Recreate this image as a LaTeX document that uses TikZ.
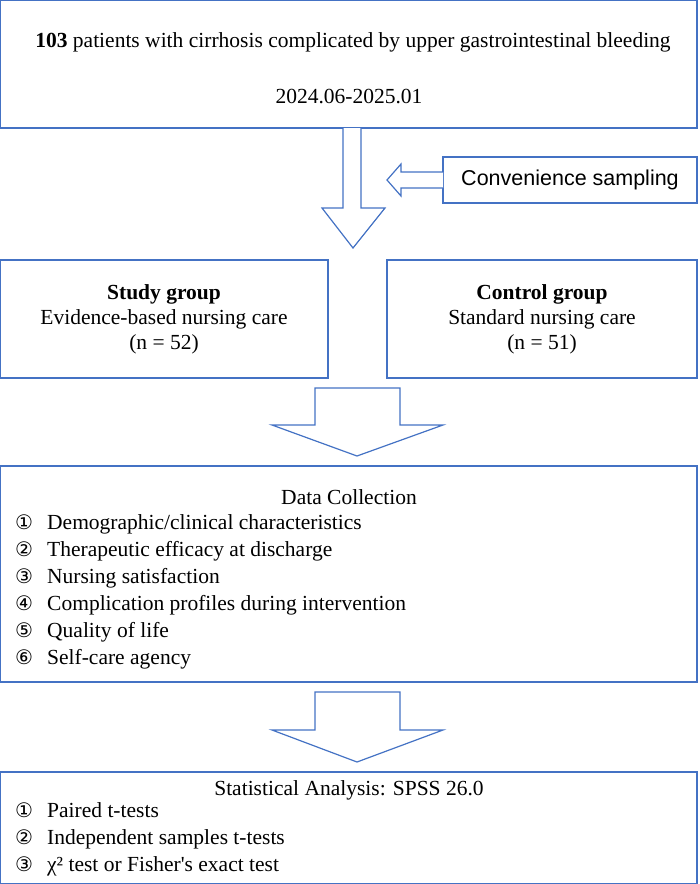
\documentclass[tikz,border=0pt]{standalone}
\usepackage{fontspec}
\setmainfont{Liberation Serif}
\newfontfamily\sansf{Liberation Sans}
\newfontfamily\cnumf{DejaVu Sans}
\definecolor{bl}{HTML}{4472C4}
\newcommand{\cn}[1]{\makebox[32pt][l]{\cnumf\fontsize{20}{20}\selectfont #1}}
\begin{document}
\begin{tikzpicture}[x=1pt,y=-1pt,
 bx/.style={draw=bl,line width=1.2pt},
 ar/.style={draw=bl,line width=1.2pt,fill=white,line join=miter},
 tx/.style={font=\fontsize{21.5}{25}\selectfont,inner sep=0pt},
 lt/.style={font=\fontsize{21.5}{27}\selectfont,inner sep=0pt,anchor=north west,align=left}]
\useasboundingbox (0,0) rectangle (700,884);
\draw[bx] (0.6,0.6) rectangle (697,128);
\node[tx] (t1) at (353,42) {\textbf{103} patients with cirrhosis complicated by upper gastrointestinal bleeding};
\node[tx] (t2) at (349,96) {2024.06-2025.01};
\draw[ar] (343,128) -- (343,208) -- (322,208) -- (353,248) -- (385,208) -- (361,208) -- (361,128);
\draw[bx] (443,157) rectangle (697,203);
\node[tx,font=\sansf\fontsize{21.5}{25}\selectfont] (cs) at (570,180) {Convenience sampling};
\draw[ar] (443,172) -- (401,172) -- (401,164) -- (387,180) -- (401,196) -- (401,188) -- (443,188);
\draw[bx] (0.6,260) rectangle (328,378);
\node[tx,align=center] (sg) at (164,319) {\textbf{Study group}\\Evidence-based nursing care\\(n = 52)};
\draw[bx] (387,260) rectangle (697,378);
\node[tx,align=center] (cg) at (542,319) {\textbf{Control group}\\Standard nursing care\\(n = 51)};
\draw[ar] (315,388) -- (315,425) -- (272,425) -- (357,456) -- (443,425) -- (400,425) -- (400,388) -- cycle;
\draw[bx] (0.6,466) rectangle (697,682);
\node[tx] (dc) at (349,497) {Data Collection};
\node[lt] (dl) at (15,514) {\cn{①}Demographic/clinical characteristics\\\cn{②}Therapeutic efficacy at discharge\\\cn{③}Nursing satisfaction\\\cn{④}Complication profiles during intervention\\\cn{⑤}Quality of life\\\cn{⑥}Self-care agency};
\draw[ar] (315,692) -- (315,730) -- (272,730) -- (357,762) -- (443,730) -- (400,730) -- (400,692) -- cycle;
\draw[bx] (0.6,772) rectangle (697,883.4);
\node[tx] (sa) at (349,790) {Statistical Analysis: SPSS 26.0};
\node[lt] (sl) at (15,802) {\cn{①}Paired t-tests\\\cn{②}Independent samples t-tests\\\cn{③}χ² test or Fisher\textquotesingle s exact test};
\end{tikzpicture}
\end{document}
